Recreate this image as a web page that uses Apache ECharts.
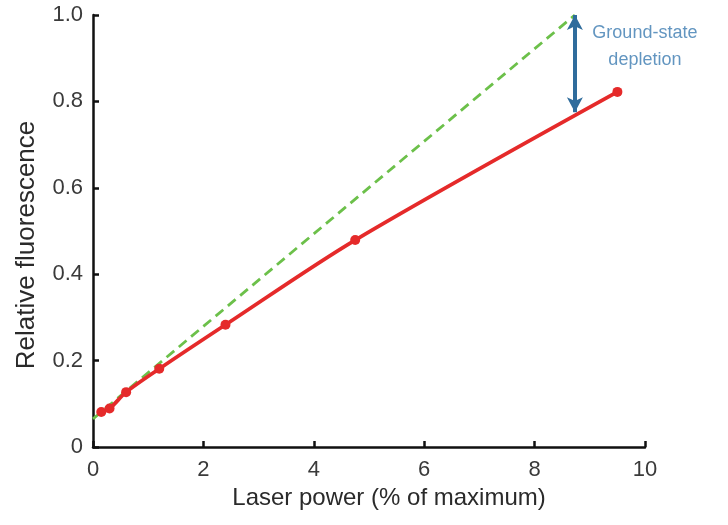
<!DOCTYPE html>
<html>
<head>
<meta charset="utf-8">
<script src="https://cdn.jsdelivr.net/npm/echarts@6/dist/echarts.min.js"></script>
<style>
  html, body { margin: 0; padding: 0; background: #fff; }
  #chart { width: 728px; height: 525px; }
</style>
</head>
<body>
<div id="chart"></div>
<script>
// Measured fluorescence vs. laser power
const laserPower = [0.15, 0.3, 0.6, 1.2, 2.4, 4.75, 9.5];
const fluorescence = [0.081, 0.089, 0.127, 0.181, 0.283, 0.479, 0.822];

// Linear (no-saturation) extrapolation
const linearX = [0, 8.73];
const linearY = [0.065, 1.0];

// Ground-state depletion gap marker
const gapX = 8.73;
const gapTop = 1.0;
const gapBottom = 0.775;
const gapText = 'Ground-state\ndepletion';

const xLabel = 'Laser power (% of maximum)';
const yLabel = 'Relative fluorescence';

const font = 'Liberation Sans, Arial, sans-serif';

const chart = echarts.init(document.getElementById('chart'), null, { renderer: 'canvas' });

const axisCommon = {
  axisLine: { show: true, lineStyle: { color: '#111', width: 2.5 } },
  axisTick: { show: true, inside: true, length: 6, lineStyle: { color: '#111', width: 2.5 } },
  splitLine: { show: false },
  axisLabel: { color: '#3a3a3a', fontSize: 22, fontFamily: font }
};

chart.setOption({
  animation: false,
  backgroundColor: '#fff',
  grid: { left: 93, right: 83, top: 15, bottom: 78, containLabel: false },
  xAxis: Object.assign({}, axisCommon, {
    type: 'value', min: 0, max: 10, interval: 2,
    name: xLabel, nameLocation: 'middle', nameGap: 38,
    nameTextStyle: { color: '#2a2a2a', fontSize: 24, fontFamily: font, padding: [0, 0, 0, 40] },
    axisLabel: Object.assign({}, axisCommon.axisLabel, { margin: 12 })
  }),
  yAxis: Object.assign({}, axisCommon, {
    type: 'value', min: 0, max: 1, interval: 0.2,
    name: yLabel, nameLocation: 'middle', nameGap: 53,
    nameTextStyle: { color: '#2a2a2a', fontSize: 26, fontFamily: font, padding: [0, 28, 0, 0] },
    axisLabel: Object.assign({}, axisCommon.axisLabel, {
      margin: 10,
      formatter: v => (v === 0 ? '0' : v.toFixed(1))
    })
  }),
  series: [
    {
      type: 'line',
      data: linearX.map((x, i) => [x, linearY[i]]),
      symbol: 'none',
      lineStyle: { color: '#6cc04a', width: 2.8, type: [10, 6] },
      z: 2,
      markLine: {
        silent: true,
        symbol: ['arrow', 'arrow'],
        symbolSize: [12, 15],
        label: { show: false },
        lineStyle: { color: '#2f6c9c', width: 4, type: 'solid' },
        data: [[{ coord: [gapX, gapTop] }, { coord: [gapX, gapBottom] }]]
      }
    },
    {
      type: 'line',
      data: laserPower.map((x, i) => [x, fluorescence[i]]),
      smooth: 0.3,
      symbol: 'circle',
      symbolSize: 10,
      itemStyle: { color: '#e52a2a' },
      lineStyle: { color: '#e52a2a', width: 3.8 },
      z: 3
    },
    {
      type: 'scatter',
      data: [[gapX, gapTop]],
      symbolSize: 0,
      silent: true,
      label: {
        show: true,
        position: 'inside',
        offset: [70, 32],
        formatter: gapText,
        color: '#3b7bb0',
        fontSize: 18,
        lineHeight: 27,
        align: 'center',
        verticalAlign: 'middle',
        fontFamily: font
      }
    }
  ]
});
</script>
</body>
</html>
